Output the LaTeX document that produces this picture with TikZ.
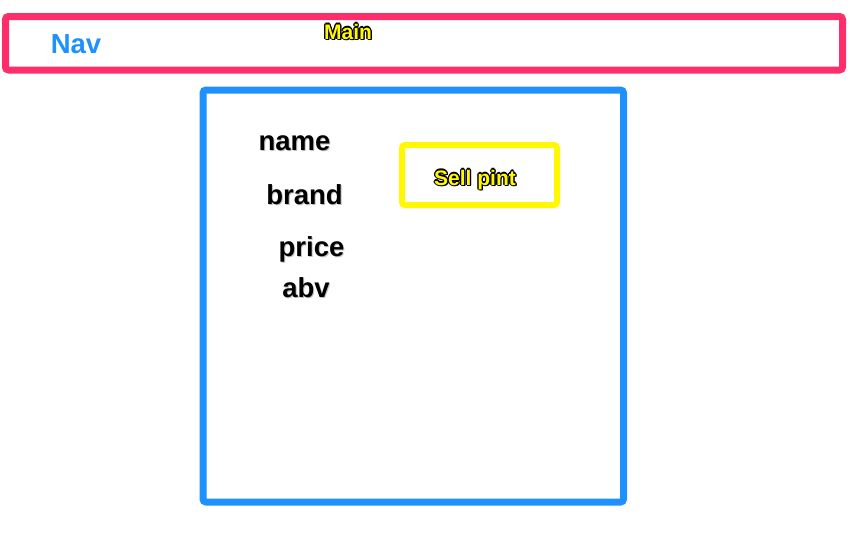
\documentclass[tikz,border=0pt]{standalone}
\usepackage{fontspec}
\setmainfont{Liberation Sans}
\usetikzlibrary{positioning}

\definecolor{navred}{RGB}{255,45,106}
\definecolor{mainblue}{RGB}{30,144,255}
\definecolor{pintyellow}{RGB}{255,248,0}

% text drawn with a halo round it
\newcommand\haloshift[3]{\rlap{\kern#1\raise#2\hbox{#3}}}
\newcommand\halotext[3]{{\color{#1}%
  \haloshift{-1.2pt}{0pt}{#3}\haloshift{1.2pt}{0pt}{#3}%
  \haloshift{0pt}{1.2pt}{#3}\haloshift{0pt}{-1.2pt}{#3}%
  \haloshift{-.85pt}{.85pt}{#3}\haloshift{.85pt}{.85pt}{#3}%
  \haloshift{-.85pt}{-.85pt}{#3}\haloshift{.85pt}{-.85pt}{#3}%
  \haloshift{1.2pt}{-1.8pt}{#3}}%
  {\color{#2}#3}}
\newcommand\shadowtext[1]{{\color{black!25}\haloshift{1pt}{-1.6pt}{#1}}#1}

\begin{document}
\begin{tikzpicture}[x=1pt, y=-1pt,
    frame/.style={line width=7pt, rounded corners=3pt},
    field/.style={anchor=base, inner sep=0pt, font=\fontsize{27.5}{30}\selectfont\bfseries},
    tag/.style={anchor=base, inner sep=0pt, font=\fontsize{21}{24}\selectfont\bfseries}]
  \useasboundingbox (0,0) rectangle (858,544);

  % boxes
  \draw[frame, navred] (5.5,16.5) rectangle (842.5,70);
  \draw[frame, mainblue] (203,90) rectangle (623.5,502);
  \draw[frame, pintyellow, line width=6pt] (402,145) rectangle (557,205);

  % labels
  \node[field, mainblue] (nav) at (76,53) {\halotext{white}{mainblue}{Nav}};
  \node[tag] (main) at (348,39) {\halotext{black}{pintyellow}{Main}};
  \node[tag] (sell) at (475,185) {\halotext{black}{pintyellow}{Sell pint}};

  \node[field] (name) at (294.5,150) {\shadowtext{name}};
  \node[field] (brand) at (304.5,204) {\shadowtext{brand}};
  \node[field] (price) at (311.5,256) {\shadowtext{price}};
  \node[field] (abv) at (306,297) {\shadowtext{abv}};
\end{tikzpicture}
\end{document}
